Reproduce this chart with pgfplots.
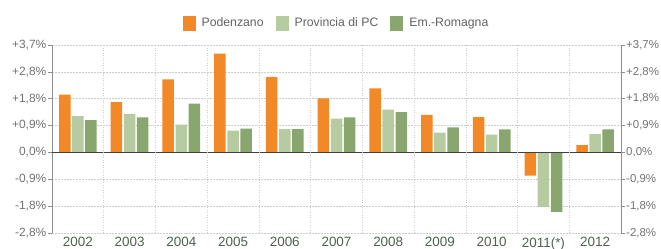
\documentclass[border=0pt]{standalone}
\usepackage{pgfplots}
\pgfplotsset{compat=1.18}
\usepackage{fontspec}
\setmainfont{Liberation Sans}
\definecolor{cPod}{RGB}{242,137,38}
\definecolor{cProv}{RGB}{182,203,160}
\definecolor{cEm}{RGB}{136,166,110}
\definecolor{ctick}{RGB}{115,115,115}
\definecolor{cyear}{RGB}{78,98,78}
\definecolor{cgrid}{RGB}{205,205,205}
\begin{document}
\begin{tikzpicture}
\useasboundingbox (-52bp,-16bp) rectangle (609bp,233bp);
\begin{axis}[
  at={(0,0)}, anchor=south west,
  scale only axis, width=569bp, height=188bp,
  xmin=-0.5, xmax=10.5, ymin=-2.775, ymax=3.7,
  axis x line=none,
  axis y line*=left,
  y axis line style={draw=ctick!80, line width=0.6pt},
  ytick={-2.775,-1.85,-0.925,0,0.925,1.85,2.775,3.7},
  yticklabels={{-2,8\%},{-1,8\%},{-0,9\%},{0,0\%},{+0,9\%},{+1,8\%},{+2,8\%},{+3,7\%}},
  yticklabel style={font=\fontsize{12}{12}\selectfont, text=ctick, inner xsep=1.5bp},
  tick align=outside, major tick length=4bp,
  tick style={draw=ctick!80, line width=0.6pt},
  ymajorgrids,
  major grid style={draw=cgrid, dash pattern=on 2pt off 1pt, line width=0.45pt},
  ybar=1.6bp, bar width=11.5bp,
  legend style={at={(0.5,1)}, anchor=south, yshift=12bp, draw=none, fill=none,
     legend columns=-1, font=\fontsize{12.3}{12.3}\selectfont, text=ctick!85!black,
     /tikz/every odd column/.append style={column sep=4bp},
     /tikz/every even column/.append style={column sep=10bp}},
  legend image code/.code={\fill[#1] (0bp,-7.5bp) rectangle (13bp,7.5bp);},
]
\addplot[fill=cPod, draw=none] coordinates {(0,1.99) (1,1.73) (2,2.52) (3,3.40) (4,2.59) (5,1.86) (6,2.21) (7,1.29) (8,1.22) (9,-0.80) (10,0.25)};
\addplot[fill=cProv, draw=none] coordinates {(0,1.25) (1,1.32) (2,0.96) (3,0.75) (4,0.80) (5,1.16) (6,1.47) (7,0.68) (8,0.61) (9,-1.88) (10,0.63)};
\addplot[fill=cEm, draw=none] coordinates {(0,1.11) (1,1.21) (2,1.68) (3,0.82) (4,0.80) (5,1.21) (6,1.39) (7,0.86) (8,0.79) (9,-2.05) (10,0.79)};
\legend{Podenzano, Provincia di PC, Em.-Romagna}
\draw[draw=black!75, line width=1.3pt] (axis cs:-0.5,0) -- (axis cs:10.5,0);
\end{axis}
\begin{axis}[
  at={(0,0)}, anchor=south west,
  scale only axis, width=569bp, height=188bp,
  xmin=-0.5, xmax=10.5, ymin=-2.775, ymax=3.7,
  axis y line*=right,
  axis x line*=bottom,
  x axis line style={draw=none},
  y axis line style={draw=ctick!80, line width=0.6pt},
  ytick={-2.775,-1.85,-0.925,0,0.925,1.85,2.775,3.7},
  yticklabels={{-2,8\%},{-1,8\%},{-0,9\%},{0,0\%},{+0,9\%},{+1,8\%},{+2,8\%},{+3,7\%}},
  yticklabel style={font=\fontsize{11.5}{11.5}\selectfont, text=ctick, inner xsep=1bp},
  xtick={0,...,10},
  xticklabels={2002,2003,2004,2005,2006,2007,2008,2009,2010,2011(*),2012},
  xticklabel style={font=\fontsize{13.5}{13.5}\selectfont, text=cyear, yshift=3bp},
  minor xtick={0.5,1.5,...,9.5},
  xminorgrids,
  minor grid style={draw=cgrid, dash pattern=on 1pt off 1.5pt, line width=0.5pt},
  tick align=outside, major tick length=4bp,
  y tick style={draw=ctick!80, line width=0.6pt},
  x tick style={draw=none},
  minor x tick style={draw=none},
]
\addplot[draw=none] coordinates {(0,0)};
\draw[draw=cgrid, line width=0.6pt] (axis cs:-0.5,-2.775) -- (axis cs:10.5,-2.775);
\end{axis}
\end{tikzpicture}
\end{document}
